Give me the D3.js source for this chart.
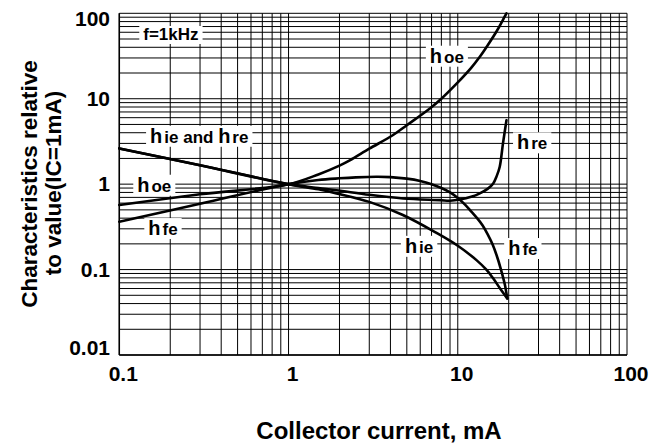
<!DOCTYPE html>
<html>
<head>
<meta charset="utf-8">
<script src="https://cdn.jsdelivr.net/npm/d3@7/dist/d3.min.js"></script>
<style>
  html, body { margin: 0; padding: 0; background: #fff; }
  svg { display: block; }
  text { font-family: "Liberation Sans", Arial, Helvetica, sans-serif; font-weight: bold; fill: #000; }
</style>
</head>
<body>
<svg id="chart" width="654" height="443"></svg>
<script>
// ---- data (collector current in mA, value relative to IC = 1 mA) ----
const hoeI = [0.1, 0.3, 1, 1.5, 2, 2.3, 3, 4.15, 5, 6.84, 8, 9.84, 12, 13.5, 15, 17, 18.5, 19.4];
const hoeV = [0.57, 0.76, 1, 1.3, 1.65, 1.9, 2.6, 3.76, 4.9, 7.7, 10, 15, 23, 31, 42, 62, 84, 100];

const hfeI = [0.1, 0.3, 1, 1.5, 2, 2.5, 3.3, 4, 5, 6, 7, 8, 9, 10, 11, 12, 13, 14, 15, 16, 17, 18, 19, 19.6];
const hfeV = [0.363, 0.589, 1, 1.12, 1.17, 1.2, 1.22, 1.21, 1.16, 1.09, 1.0, 0.9, 0.8, 0.69, 0.58, 0.48, 0.4, 0.33, 0.26, 0.2, 0.145, 0.1, 0.066, 0.046];

const hieI = [0.1, 0.3, 1, 1.5, 1.92, 3, 4.74, 7.5, 10, 12.9, 14.8, 16.1, 18, 19.6];
const hieV = [2.62, 1.66, 1, 0.87, 0.78, 0.62, 0.435, 0.268, 0.19, 0.129, 0.099, 0.08, 0.058, 0.046];

const hreI = [0.1, 0.3, 1, 1.5, 1.92, 3, 4.76, 7.84, 9, 10.3, 12, 13.5, 15, 16.2, 17, 17.7, 18.5, 19.4];
const hreV = [2.62, 1.66, 1, 0.9, 0.85, 0.75, 0.68, 0.65, 0.64, 0.66, 0.71, 0.78, 0.88, 1.02, 1.25, 1.6, 3.0, 5.6];

const xTicks = [0.1, 1, 10, 100];
const xTickLabels = ["0.1", "1", "10", "100"];
const yTicks = [0.01, 0.1, 1, 10, 100];
const yTickLabels = ["0.01", "0.1", "1", "10", "100"];

// annotation texts: [main letter, subscript part, ...], anchored at data coords
const annoText = [
  [["f=1kHz", "n"]],
  [["h", "b"], ["ie and ", "s"], ["h", "b"], ["re", "s"]],
  [["h", "b"], ["oe", "s"]],
  [["h", "b"], ["fe", "s"]],
  [["h", "b"], ["oe", "s"]],
  [["h", "b"], ["re", "s"]],
  [["h", "b"], ["ie", "s"]],
  [["h", "b"], ["fe", "s"]]
];
const annoI = [0.1386, 0.152, 0.1277, 0.1484, 6.84, 22.4, 4.87, 19.85];
const annoV = [48.7, 3.05, 0.815, 0.2535, 26.4, 2.556, 0.157, 0.148];

const xTitle = "Collector current, mA";
const yTitle = ["Characteristics relative", "to value(IC=1mA)"];

// ---- layout ----
const svg = d3.select("#chart");
const L = 119.3, R = 627, T = 13.3, B = 355;
const x = d3.scaleLog().domain([0.1, 100]).range([L, R]);
const y = d3.scaleLog().domain([0.01, 100]).range([B, T]);

// grid
const grid = svg.append("g");
const minorX = [];
for (let d = 0.1; d < 100; d *= 10) for (let k = 1; k <= 10; k++) minorX.push(+(d * k).toPrecision(3));
const minorY = [];
for (let d = 0.01; d < 100; d *= 10) for (let k = 1; k <= 10; k++) minorY.push(+(d * k).toPrecision(3));
grid.selectAll("line.vx").data([...new Set(minorX)]).enter().append("line")
  .attr("x1", d => x(d)).attr("x2", d => x(d)).attr("y1", T).attr("y2", B)
  .attr("stroke", "#000").attr("stroke-width", 1);
grid.selectAll("line.hy").data([...new Set(minorY)]).enter().append("line")
  .attr("x1", L).attr("x2", R).attr("y1", d => y(d)).attr("y2", d => y(d))
  .attr("stroke", "#000").attr("stroke-width", 1);
svg.append("line").attr("x1", L).attr("x2", L).attr("y1", T).attr("y2", B).attr("stroke", "#000").attr("stroke-width", 1.5);
svg.append("line").attr("x1", L).attr("x2", R).attr("y1", B).attr("y2", B).attr("stroke", "#000").attr("stroke-width", 1.5);

// curves
const line = d3.line().x(d => x(d[0])).y(d => y(d[1])).curve(d3.curveCatmullRom.alpha(0.5));
const series = [[hoeI, hoeV], [hfeI, hfeV], [hieI, hieV], [hreI, hreV]];
series.forEach(([I, V]) => {
  svg.append("path").datum(I.map((v, i) => [v, V[i]]))
    .attr("d", line).attr("fill", "none").attr("stroke", "#000")
    .attr("stroke-width", 2.6).attr("stroke-linejoin", "round").attr("stroke-linecap", "round");
});

// annotations with white boxes
annoText.forEach((parts, i) => {
  const g = svg.append("g");
  const rect = g.append("rect").attr("fill", "#fff");
  const t = g.append("text").attr("x", x(annoI[i])).attr("y", y(annoV[i]));
  parts.forEach(([s, kind], j) => {
    const ts = t.append("tspan").text(s);
    if (kind === "b") ts.attr("font-size", 20);
    else if (kind === "s") ts.attr("font-size", 17).attr("dx", 2);
    else ts.attr("font-size", 17);
  });
  const bb = t.node().getBBox();
  rect.attr("x", bb.x - 4).attr("y", bb.y + 1).attr("width", bb.width + 8).attr("height", bb.height - 1);
});

// tick labels
svg.selectAll("text.xt").data(xTicks).enter().append("text")
  .attr("x", d => x(d) + 4).attr("y", 381).attr("text-anchor", "middle")
  .attr("font-size", 21).text((d, i) => xTickLabels[i]);
svg.selectAll("text.yt").data(yTicks).enter().append("text")
  .attr("x", 110).attr("y", d => Math.min(Math.max(y(d) + 7, 26), 355)).attr("text-anchor", "end")
  .attr("font-size", 21).text((d, i) => yTickLabels[i]);

// axis titles
svg.append("text").attr("x", 379).attr("y", 439).attr("text-anchor", "middle")
  .attr("font-size", 24).text(xTitle);
svg.append("text").attr("transform", "translate(37,184) rotate(-90)").attr("text-anchor", "middle")
  .attr("font-size", 22.5).text(yTitle[0]);
svg.append("text").attr("transform", "translate(61,183) rotate(-90)").attr("text-anchor", "middle")
  .attr("font-size", 22.5).text(yTitle[1]);
</script>
</body>
</html>
